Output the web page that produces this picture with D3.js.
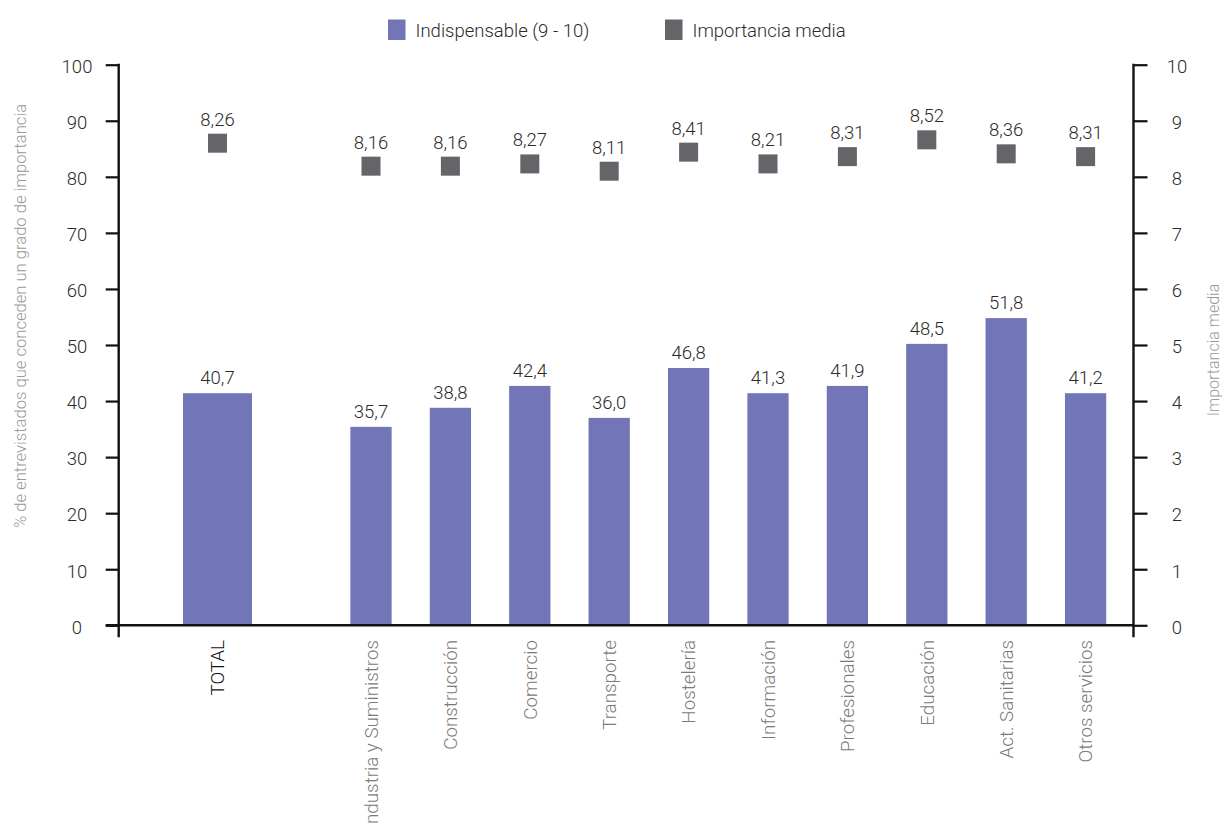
<!DOCTYPE html>
<html>
<head>
<meta charset="utf-8">
<script src="https://cdn.jsdelivr.net/npm/d3@7/dist/d3.min.js"></script>
<style>
  html, body { margin: 0; padding: 0; background: #fff; }
  svg { display: block; font-family: Roboto, "Liberation Sans", sans-serif; font-weight: 300; }
</style>
</head>
<body>
<svg id="chart" width="1223" height="824"></svg>
<script>
// ---- data ----
const categories = ["TOTAL", "Industria y Suministros", "Construcción", "Comercio", "Transporte",
  "Hostelería", "Información", "Profesionales", "Educación", "Act. Sanitarias", "Otros servicios"];
// bar heights as drawn (left axis, %)
const barValues = [41.4, 35.4, 38.8, 42.7, 37.0, 45.9, 41.4, 42.7, 50.2, 54.8, 41.4];
// bar labels as printed
const barLabels = ["40,7", "35,7", "38,8", "42,4", "36,0", "46,8", "41,3", "41,9", "48,5", "51,8", "41,2"];
// mean importance markers as drawn (right axis)
const meanValues = [8.60, 8.19, 8.19, 8.23, 8.10, 8.44, 8.23, 8.36, 8.66, 8.41, 8.36];
const meanLabels = ["8,26", "8,16", "8,16", "8,27", "8,11", "8,41", "8,21", "8,31", "8,52", "8,36", "8,31"];
const leftTicks = [0, 10, 20, 30, 40, 50, 60, 70, 80, 90, 100];
const rightTicks = [0, 1, 2, 3, 4, 5, 6, 7, 8, 9, 10];
const seriesNames = ["Indispensable (9 - 10)", "Importancia media"];
const leftTitle = "% de entrevistados que conceden un grado de importancia";
const rightTitle = "Importancia media";

// ---- layout ----
const plotL = 118.7, plotR = 1133.5, plotT = 64.7, plotB = 625.3;
const barColor = "#7276b7", markColor = "#646569";

const svg = d3.select("#chart");

// TOTAL group and sector group each get their own band scale
const xTotal = d3.scaleBand().domain(categories.slice(0, 1)).range([178, 257]).padding(0);
const xSect = d3.scaleBand().domain(categories.slice(1)).range([331.3, 1125.3]).padding(0);
const y = d3.scaleLinear().domain([0, 100]).range([plotB, plotT]);
const y2 = d3.scaleLinear().domain([0, 10]).range([plotB, plotT]);

const data = categories.map((c, i) => ({
  cat: c, v: barValues[i], lab: barLabels[i], m: meanValues[i], mlab: meanLabels[i], total: i === 0
}));
const sc = d => d.total ? xTotal : xSect;
const cx = d => sc(d)(d.cat) + sc(d).bandwidth() / 2;
const bw = d => sc(d).bandwidth() * (d.total ? 0.873 : 0.52);

// bars
svg.append("g").selectAll("rect").data(data).join("rect")
  .attr("x", d => cx(d) - bw(d) / 2)
  .attr("y", d => y(d.v))
  .attr("width", bw)
  .attr("height", d => y(0) - y(d.v))
  .attr("fill", barColor);

// bar labels
svg.append("g").selectAll("text").data(data).join("text")
  .attr("x", cx)
  .attr("y", d => y(d.v) - 9)
  .attr("text-anchor", "middle")
  .attr("font-size", 18.5)
  .attr("fill", "#2b2b2b")
  .text(d => d.lab);

// markers
const ms = 19;
svg.append("g").selectAll("rect").data(data).join("rect")
  .attr("x", d => cx(d) - ms / 2)
  .attr("y", d => y2(d.m) - ms / 2)
  .attr("width", ms)
  .attr("height", ms)
  .attr("fill", markColor);

svg.append("g").selectAll("text").data(data).join("text")
  .attr("x", cx)
  .attr("y", d => y2(d.m) - ms / 2 - 8)
  .attr("text-anchor", "middle")
  .attr("font-size", 18.5)
  .attr("fill", "#2b2b2b")
  .text(d => d.mlab);

// left axis
const gL = svg.append("g").attr("transform", `translate(${plotL},0)`)
  .call(d3.axisLeft(y).tickValues(leftTicks).tickSize(13).tickSizeOuter(0).tickPadding(0))
  .attr("font-family", null).attr("font-size", null);
gL.select(".domain").remove();
gL.selectAll(".tick line").attr("stroke", "#111").attr("stroke-width", 2.2);
gL.selectAll(".tick text").attr("x", -(plotL - 77)).attr("text-anchor", "middle")
  .attr("font-size", 18.5).attr("fill", "#2b2b2b").attr("dy", "0.42em");

// right axis
const gR = svg.append("g").attr("transform", `translate(${plotR},0)`)
  .call(d3.axisRight(y2).tickValues(rightTicks).tickSize(14).tickSizeOuter(0).tickPadding(0))
  .attr("font-family", null).attr("font-size", null);
gR.select(".domain").remove();
gR.selectAll(".tick line").attr("stroke", "#111").attr("stroke-width", 2.2);
gR.selectAll(".tick text").attr("x", 1177 - plotR).attr("text-anchor", "middle")
  .attr("font-size", 18.5).attr("fill", "#2b2b2b").attr("dy", "0.42em");

// axis lines
svg.append("line").attr("x1", plotL).attr("x2", plotL).attr("y1", y(100) - 1).attr("y2", y(0) + 12)
  .attr("stroke", "#111").attr("stroke-width", 2.4);
svg.append("line").attr("x1", plotR).attr("x2", plotR).attr("y1", y2(10) - 1).attr("y2", y2(0) + 12)
  .attr("stroke", "#111").attr("stroke-width", 2.4);
svg.append("line").attr("x1", plotL - 13).attr("x2", plotR).attr("y1", y(0)).attr("y2", y(0))
  .attr("stroke", "#111").attr("stroke-width", 2.4);

// category labels
svg.append("g").selectAll("text").data(data).join("text")
  .attr("transform", d => `translate(${cx(d)},640) rotate(-90)`)
  .attr("text-anchor", "end")
  .attr("dy", "0.36em")
  .attr("font-size", 18.8)
  .attr("fill", d => d.total ? "#111" : "#7a7a7a")
  .text(d => d.cat);

// axis titles
svg.append("text")
  .attr("transform", `translate(20,316) rotate(-90)`)
  .attr("text-anchor", "middle").attr("dy", "0.36em")
  .attr("font-size", 16.6).attr("fill", "#9a9a9a")
  .text(leftTitle);
svg.append("text")
  .attr("transform", `translate(1213,350) rotate(-90)`)
  .attr("text-anchor", "middle").attr("dy", "0.36em")
  .attr("font-size", 16).attr("fill", "#9a9a9a")
  .text(rightTitle);

// legend
const legend = svg.append("g");
const legendItems = [
  { name: seriesNames[0], color: barColor, sx: 388, tx: 415.5 },
  { name: seriesNames[1], color: markColor, sx: 665, tx: 692.5 }
];
legend.selectAll("rect").data(legendItems).join("rect")
  .attr("x", d => d.sx).attr("y", 19.5).attr("width", 17.5).attr("height", 20.5)
  .attr("fill", d => d.color);
legend.selectAll("text").data(legendItems).join("text")
  .attr("x", d => d.tx).attr("y", 37)
  .attr("font-size", 18.5).attr("fill", "#2b2b2b")
  .text(d => d.name);
</script>
</body>
</html>
